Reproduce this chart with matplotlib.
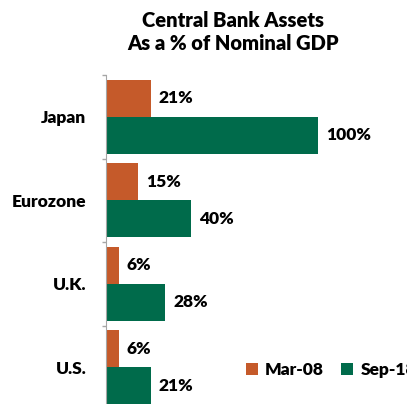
import matplotlib.pyplot as plt
import numpy as np

# data
countries = ["Japan", "Eurozone", "U.K.", "U.S."]
mar08 = [21, 15, 6, 6]
sep18 = [100, 40, 28, 21]
series_names = ["Mar-08", "Sep-18"]

orange = "#C55A2A"
green = "#006B4B"

plt.rcParams["font.family"] = ["Lato", "DejaVu Sans"]
wt = "heavy"

fig = plt.figure(figsize=(4.07, 4.04), dpi=100)
ax = fig.add_axes([106 / 407, -5 / 404, 300 / 407, 334 / 404])

y = np.arange(len(countries))  # 0 = Japan at top (y inverted)
h = 0.443
b1 = ax.barh(y - h / 2, mar08, height=h, color=orange, label=series_names[0])
b2 = ax.barh(y + h / 2, sep18, height=h, color=green, label=series_names[1])

for bars, vals in [(b1, mar08), (b2, sep18)]:
    for bar, v in zip(bars, vals):
        ax.text(bar.get_width() + 3.8, bar.get_y() + bar.get_height() / 2, f"{v}%",
                va="center", ha="left", fontsize=12.5, fontweight=wt)

ax.set_ylim(len(countries) - 0.5, -0.5)
ax.set_xlim(0, 300 / 2.12)
ax.set_yticks(y)
ax.set_yticklabels(countries, fontsize=12.5, fontweight=wt)
ax.set_yticks(np.arange(-0.5, len(countries), 1), minor=True)
ax.tick_params(axis="y", which="major", length=0, pad=14)
ax.tick_params(axis="y", which="minor", length=3, color="#a6a6a6", width=1)
ax.set_xticks([])
for s in ["top", "right", "bottom"]:
    ax.spines[s].set_visible(False)
ax.spines["left"].set_color("#a6a6a6")

fig.text(233 / 407, 1 - 32 / 404, "Central Bank Assets\nAs a % of Nominal GDP",
         ha="center", va="center", fontsize=14.5, fontweight=wt, linespacing=1.3)

fig.legend(handles=[b1, b2], loc="center left", bbox_to_anchor=(246 / 407, 1 - 370 / 404),
           ncol=2, frameon=False, prop={"size": 12.5, "weight": wt},
           handlelength=0.7, handleheight=0.7,
           handletextpad=0.4, columnspacing=1.0, borderpad=0, borderaxespad=0)

fig.savefig("out.png", dpi=100)
